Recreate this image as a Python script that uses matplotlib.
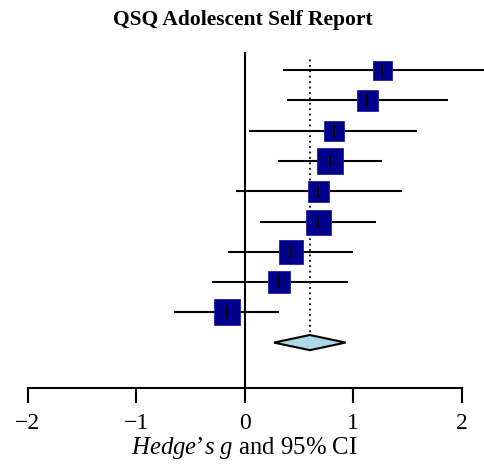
# Forest plot - QSQ Adolescent Self Report
import matplotlib.pyplot as plt
import numpy as np

plt.rcParams['font.family'] = ['Liberation Serif', 'DejaVu Serif']
plt.rcParams['mathtext.fontset'] = 'custom'
plt.rcParams['mathtext.rm'] = 'Liberation Serif'
plt.rcParams['mathtext.it'] = 'Liberation Serif:italic'

# study effects, top row first
effects = [1.27, 1.125, 0.82, 0.79, 0.68, 0.68, 0.425, 0.32, -0.165]
ci_low = [0.35, 0.39, 0.04, 0.31, -0.08, 0.145, -0.15, -0.30, -0.65]
ci_high = [2.25, 1.87, 1.59, 1.27, 1.45, 1.21, 1.00, 0.95, 0.32]
box_px = [19, 21, 20, 26, 21, 25, 24, 23, 26]  # square sizes (study weights)

# pooled estimate
pooled = 0.60
pooled_low = 0.27
pooled_high = 0.93

fig = plt.figure(figsize=(4.85, 4.65), dpi=100)
ax = fig.add_axes([27.7 / 485, 1 - 388 / 465, 434 / 485, 336 / 465])

n = len(effects)
ypos = np.arange(n, 0, -1)

ax.hlines(ypos, ci_low, ci_high, color='black', lw=1.5, clip_on=False, zorder=2)
for x, y, s in zip(effects, ypos, box_px):
    ax.plot(x, y, marker='s', ms=s * 0.72, color='#00008B', mec='#2020a8',
            mew=0.6, zorder=3, clip_on=False)
    ax.plot(x, y, marker='|', ms=8, color='black', mew=1.4, zorder=4)

# diamond for the pooled effect
h = 0.25
ax.fill([pooled_low, pooled, pooled_high, pooled], [0, h, 0, -h],
        facecolor='#ADD8E6', edgecolor='black', lw=1.5, zorder=3)

ax.axvline(0, ymin=0, ymax=1, color='black', lw=1.5, zorder=1)
ax.vlines(pooled, 0, 9.45, color='black', lw=1.3, linestyles=(0, (1, 2)), zorder=1)

ax.set_xlim(-2, 2)
ax.set_ylim(-1.5, 9.6)
for side in ['top', 'right', 'left']:
    ax.spines[side].set_visible(False)
ax.spines['bottom'].set_linewidth(1.5)
ax.set_yticks([])
ax.set_xticks([-2, -1, 0, 1, 2])
ax.set_xticklabels(['\u22122', '\u22121', '0', '1', '2'])
ax.tick_params(axis='x', direction='out', length=11, width=1.5, labelsize=17, pad=7)
ax.set_xlabel("$\\it{Hedge\u2019s}$ $\\it{g}$ and 95% CI", fontsize=17.8, labelpad=1)

fig.suptitle('QSQ Adolescent Self Report', fontsize=15.5, fontweight='bold', y=0.978)

plt.savefig('out.png', dpi=100)
